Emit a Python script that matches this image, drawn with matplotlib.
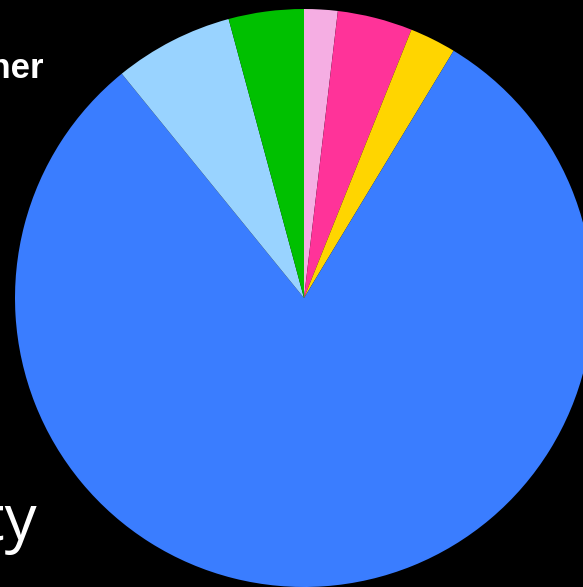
import matplotlib
matplotlib.use("Agg")
import matplotlib.pyplot as plt

# slice shares, clockwise from 12 o'clock
labels = ["Light pink", "Pink", "Yellow", "Blue", "Light blue", "Green"]
shares = [1.87, 4.19, 2.60, 80.47, 6.66, 4.20]
colors = ["#f5aee3", "#ff3399", "#ffd500", "#3a7dff", "#99d3ff", "#00c000"]

W, H = 583, 587
fig = plt.figure(figsize=(W / 100, H / 100), dpi=100, facecolor="black")
ax = fig.add_axes([0, 0, 1, 1])
ax.set_facecolor("black")

ax.pie(shares, colors=colors, startangle=90, counterclock=False,
       radius=289, center=(304, H - 298), frame=True,
       wedgeprops=dict(linewidth=0, antialiased=True))

ax.set_xlim(0, W)
ax.set_ylim(0, H)
ax.set_aspect("auto")
ax.axis("off")

# outer labels, partly outside the canvas
ax.text(44, H - 78, "Other", color="white", fontsize=25, fontweight="bold",
        family="Liberation Sans", ha="right", va="baseline")
ax.text(37, H - 540, "Majority", color="white", fontsize=46,
        family="Open Sans", ha="right", va="baseline")

fig.savefig("out.png", dpi=100, facecolor="black")
